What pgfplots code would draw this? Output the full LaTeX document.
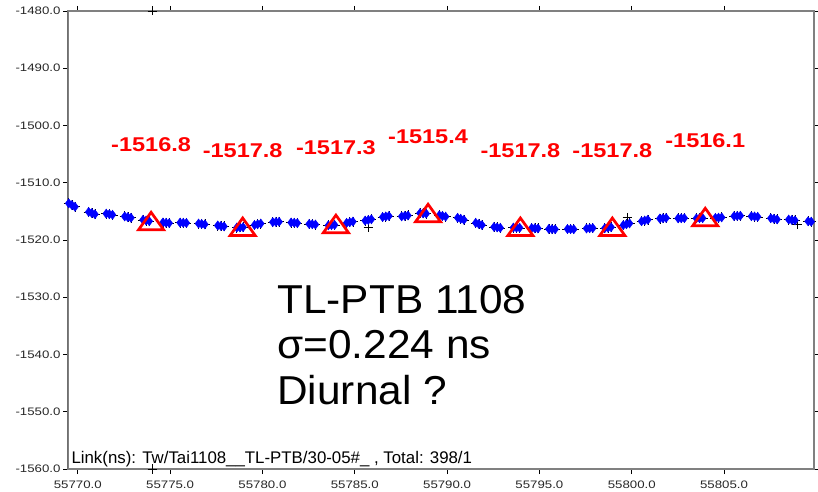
\documentclass[border=0pt]{standalone}
\usepackage{fontspec}
\setmainfont{Liberation Sans}
\newfontfamily\tickfamily[FakeStretch=1.22]{Liberation Sans}
\newfontfamily\redfamily[FakeStretch=1.18]{Liberation Sans}
\newfontfamily\bigfamily[FakeStretch=1.05]{Liberation Sans}
\usepackage{pgfplots}
\usepackage{pgfplotstable}
\pgfplotsset{compat=1.18}
\newcommand\tickfont{\tickfamily\fontsize{10.9}{12}\selectfont}
\pgfplotstableread{
x y
55769.51 -1513.6
55769.68 -1513.9
55769.85 -1514.2
55770.59 -1515.1
55770.76 -1515.3
55770.93 -1515.5
55771.54 -1515.4
55771.71 -1515.5
55771.88 -1515.6
55772.54 -1515.88
55772.71 -1516.0
55772.88 -1516.12
55773.53 -1516.48
55773.70 -1516.6
55773.87 -1516.72
55774.61 -1516.95
55774.78 -1517.0
55774.95 -1517.05
55775.54 -1516.97
55775.71 -1517.0
55775.88 -1517.03
55776.54 -1517.13
55776.71 -1517.2
55776.88 -1517.27
55777.58 -1517.47
55777.75 -1517.55
55777.92 -1517.63
55778.61 -1517.83
55778.78 -1517.8
55778.95 -1517.77
55779.57 -1517.37
55779.74 -1517.25
55779.91 -1517.13
55780.56 -1516.88
55780.73 -1516.85
55780.90 -1516.82
55781.55 -1516.95
55781.72 -1517.0
55781.89 -1517.05
55782.53 -1517.2
55782.70 -1517.25
55782.87 -1517.3
55783.57 -1517.44
55783.74 -1517.4
55783.91 -1517.36
55784.56 -1517.01
55784.73 -1516.9
55784.90 -1516.79
55785.56 -1516.62
55785.73 -1516.5
55785.90 -1516.38
55786.51 -1515.99
55786.68 -1515.9
55786.85 -1515.81
55787.54 -1515.88
55787.71 -1515.8
55787.88 -1515.72
55788.53 -1515.3
55788.70 -1515.35
55788.87 -1515.4
55789.58 -1515.68
55789.75 -1515.8
55789.92 -1515.92
55790.57 -1516.12
55790.74 -1516.3
55790.91 -1516.48
55791.55 -1517.01
55791.72 -1517.2
55791.89 -1517.39
55792.54 -1517.72
55792.71 -1517.8
55792.88 -1517.88
55793.59 -1517.83
55793.76 -1517.85
55793.93 -1517.87
55794.58 -1517.92
55794.75 -1517.95
55794.92 -1517.98
55795.51 -1518.07
55795.68 -1518.1
55795.85 -1518.13
55796.52 -1518.08
55796.69 -1518.1
55796.86 -1518.12
55797.55 -1517.99
55797.72 -1517.95
55797.89 -1517.91
55798.54 -1517.94
55798.71 -1517.85
55798.88 -1517.76
55799.54 -1517.4
55799.71 -1517.25
55799.88 -1517.1
55800.53 -1516.73
55800.70 -1516.6
55800.87 -1516.47
55801.52 -1516.25
55801.69 -1516.2
55801.86 -1516.15
55802.51 -1516.22
55802.68 -1516.2
55802.85 -1516.18
55803.50 -1516.22
55803.67 -1516.2
55803.84 -1516.18
55804.53 -1516.15
55804.70 -1516.1
55804.87 -1516.05
55805.54 -1515.83
55805.71 -1515.8
55805.88 -1515.77
55806.48 -1515.85
55806.65 -1515.9
55806.82 -1515.95
55807.53 -1516.2
55807.70 -1516.3
55807.87 -1516.4
55808.50 -1516.43
55808.67 -1516.5
55808.84 -1516.57
55809.55 -1516.73
55809.72 -1516.8
55809.89 -1516.87
}\blobs
\begin{document}
\begin{tikzpicture}
\begin{axis}[
  width=746bp, height=458bp, scale only axis,
  xmin=55769.47, xmax=55809.87, ymin=-1560, ymax=-1480,
  xtick={55770,55775,55780,55785,55790,55795,55800,55805},
  ytick={-1560,-1550,-1540,-1530,-1520,-1510,-1500,-1490,-1480},
  scaled x ticks=false, scaled y ticks=false,
  /pgf/number format/assume math mode=true,
  xticklabel={\pgfmathprintnumber[fixed,fixed zerofill,precision=1,1000 sep={}]{\tick}},
  yticklabel={\pgfmathprintnumber[fixed,fixed zerofill,precision=1,1000 sep={}]{\tick}},
  ticklabel style={font=\tickfont, text=black!85},
  xticklabel style={yshift=-3bp},
  yticklabel style={xshift=1bp},
  tick align=outside, major tick length=5bp,
  tick style={black, line width=0.8bp},
  axis line style={draw=gray, line width=1.6bp},
  clip marker paths=false,
]
\addplot[only marks, mark=+, mark size=5bp, black, line width=0.6bp] table {\blobs};
\addplot[only marks, mark=+, mark size=4.5bp, black, line width=0.7bp] coordinates {
(55774.03,-1480) (55774.03,-1560) (55785.72,-1517.75) (55799.75,-1516.05) (55808.95,-1517.3)};
\addplot[only marks, mark=diamond*, mark size=4.6bp, blue, mark options={fill=blue, draw=blue}] table {\blobs};
\addplot[only marks, mark=triangle, mark size=11.7bp, red, line width=2.7bp,
  mark options={xscale=1.24},
  point meta=explicit symbolic,
  nodes near coords,
  every node near coord/.append style={anchor=center, yshift=79bp, text=red,
     font=\redfamily\bfseries\fontsize{20}{21}\selectfont, inner sep=0pt}]
  coordinates {
(55773.97,-1517.2) [-1516.8]
(55778.93,-1518.2) [-1517.8]
(55783.98,-1517.7) [-1517.3]
(55788.97,-1515.8) [-1515.4]
(55793.97,-1518.2) [-1517.8]
(55798.95,-1518.2) [-1517.8]
(55803.98,-1516.5) [-1516.1]
};
\draw[black, line width=1bp] (rel axis cs:0,1) -- (rel axis cs:0,0) -- (rel axis cs:1,0);
\node[anchor=base west, inner sep=0pt, font=\bigfamily\fontsize{40.5}{44}\selectfont] at (axis cs:55780.80,-1532.8) {TL-PTB 1108};
\node[anchor=base west, inner sep=0pt, font=\bigfamily\fontsize{40.5}{44}\selectfont] at (axis cs:55780.80,-1540.66) {σ=0.224 ns};
\node[anchor=base west, inner sep=0pt, font=\bigfamily\fontsize{40.5}{44}\selectfont] at (axis cs:55780.80,-1548.82) {Diurnal ?};
\node[anchor=base west, inner sep=0pt, font=\fontsize{16.9}{18}\selectfont] at (axis cs:55769.65,-1559.12) {Link(ns): Tw/Tai1108\_\_TL-PTB/30-05\#\_ , Total: 398/1};
\end{axis}
\pgfresetboundingbox
\path ([shift={(-68bp,-23bp)}]current axis.south west) rectangle ([shift={(4bp,11bp)}]current axis.north east);
\end{tikzpicture}
\end{document}
